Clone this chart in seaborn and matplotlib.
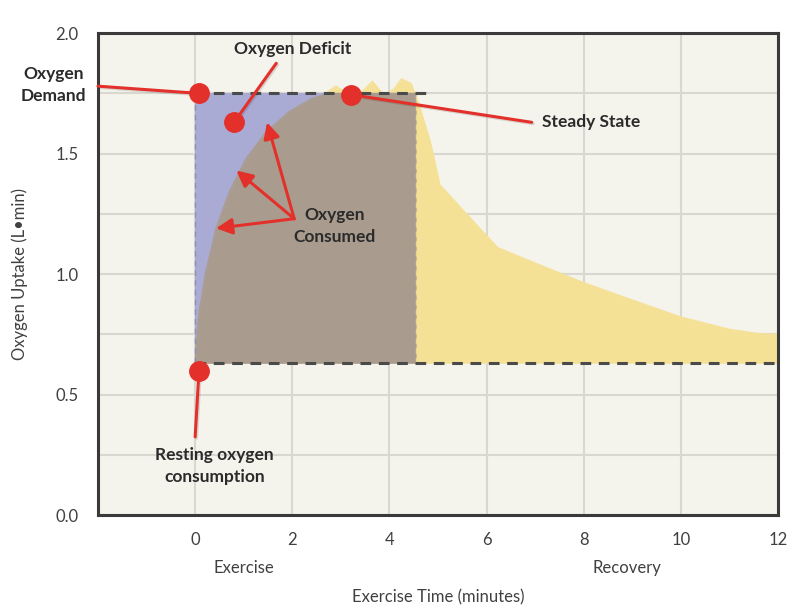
import matplotlib
matplotlib.use("Agg")
import matplotlib.pyplot as plt
import matplotlib.patheffects as pe
import seaborn as sns
import pandas as pd
import numpy as np

# values
demand_level = 1.75
rest_level = 0.63
exercise_end = 4.55

consumed_t = [0.0, 0.02, 0.08, 0.22, 0.43, 0.70, 1.05, 1.46, 1.94, 2.41, 2.76, 4.55]
consumed_v = [0.63, 0.70, 0.84, 1.01, 1.19, 1.34, 1.48, 1.59, 1.675, 1.73, 1.75, 1.75]

uptake_t = [0.0, 0.08, 0.43, 1.05, 1.94, 2.60, 2.90, 3.20, 3.45, 3.65, 3.90, 4.10, 4.25,
            4.45, 4.60, 4.84, 5.04, 5.45, 5.86, 6.23, 6.89, 7.98, 8.95, 10.0, 11.0, 11.57, 12.0]
uptake_v = [0.63, 0.84, 1.19, 1.48, 1.675, 1.74, 1.78, 1.74, 1.76, 1.80, 1.74, 1.77, 1.81,
            1.79, 1.71, 1.55, 1.37, 1.28, 1.19, 1.11, 1.055, 0.966, 0.896, 0.822, 0.771, 0.754, 0.75]

x_ticks = [0, 2, 4, 6, 8, 10, 12]
y_ticks = [0.0, 0.5, 1.0, 1.5, 2.0]

RED = "#e4302a"
BLUE = "#a9abd5"
BROWN = "#a99c8f"
YELLOW = "#f5e196"
BG = "#f4f3ec"
TXT = "#2b2b2b"

sns.set_style("white")
plt.rcParams["font.family"] = ["Lato", "DejaVu Sans"]

fig = plt.figure(figsize=(8.02, 6.14), dpi=100)
ax = fig.add_axes([0.1222, 0.161, 0.8478, 0.785])
ax.set_facecolor(BG)

uptake = pd.DataFrame({"t": uptake_t, "v": uptake_v})
consumed = pd.DataFrame({"t": consumed_t, "v": consumed_v})

# yellow: total uptake during exercise + recovery
ax.fill_between(uptake["t"], rest_level, uptake["v"], color=YELLOW, lw=0, zorder=1)
sns.lineplot(data=uptake, x="t", y="v", ax=ax, color=YELLOW, lw=1, zorder=1)

# blue: oxygen demand box
ax.fill_between([0, exercise_end], rest_level, demand_level, color=BLUE, lw=0, zorder=2)

# brown: oxygen consumed
ax.fill_between(consumed["t"], rest_level, consumed["v"], color=BROWN, lw=0, zorder=3)
sns.lineplot(data=consumed, x="t", y="v", ax=ax, color=BROWN, lw=1, zorder=3)

# faint edges of the box
ax.plot([0, 0], [rest_level, demand_level], ls=(0, (4, 3)), color="#8d8fb8", lw=1, zorder=4)
ax.plot([exercise_end, exercise_end], [rest_level, demand_level], ls=(0, (4, 3)),
        color="#e8d98f", lw=1, zorder=4)

# dashed demand / resting lines
ax.plot([0, 4.8], [demand_level, demand_level], ls=(0, (3.5, 2.5)), color="#4a4a4a", lw=2.2, zorder=5)
ax.plot([0, 12], [rest_level, rest_level], ls=(0, (3.5, 2.5)), color="#4a4a4a", lw=2.2, zorder=5)

shadow = [pe.SimplePatchShadow(offset=(1, -1), alpha=0.12), pe.Normal()]
line_shadow = [pe.SimpleLineShadow(offset=(1, -1), alpha=0.12), pe.Normal()]


def callout(x0, y0, x1, y1):
    ax.plot([x0, x1], [y0, y1], color=RED, lw=2.2, zorder=7, clip_on=False,
            path_effects=line_shadow, solid_capstyle="round")
    ax.plot([x1], [y1], "o", ms=14, color=RED, zorder=8, clip_on=False)


callout(-2.0, 1.78, 0.08, 1.75)     # oxygen demand
callout(1.67, 1.875, 0.80, 1.63)    # oxygen deficit
callout(6.93, 1.63, 3.20, 1.745)    # steady state
callout(0.0, 0.325, 0.08, 0.60)     # resting

# arrows from "Oxygen Consumed"
for hx, hy in [(1.48, 1.63), (0.85, 1.43), (0.43, 1.19)]:
    ax.annotate("", xy=(hx, hy), xytext=(2.04, 1.23), zorder=9,
                arrowprops=dict(arrowstyle="-|>", color=RED, lw=2.2,
                                mutation_scale=24, shrinkA=0, shrinkB=0,
                                path_effects=shadow))

bold = dict(fontweight="bold", color=TXT, fontsize=12.5, zorder=10)
ax.text(2.0, 1.935, "Oxygen Deficit", ha="center", va="center", **bold)
ax.text(2.87, 1.20, "Oxygen\nConsumed", ha="center", va="center", linespacing=1.45, **bold)
ax.text(7.15, 1.63, "Steady State", ha="left", va="center", **bold)
ax.text(0.40, 0.205, "Resting oxygen\nconsumption", ha="center", va="center",
        linespacing=1.45, **bold)
fig.text(0.067, 0.862, "Oxygen\nDemand", ha="center", va="center", linespacing=1.45,
         fontweight="bold", color=TXT, fontsize=12.5)

# axes styling
ax.set_xlim(-2, 12)
ax.set_ylim(0, 2.0)
ax.set_xticks(x_ticks)
ax.set_yticks(y_ticks)
ax.set_yticks(np.arange(0.25, 2.0, 0.5), minor=True)
ax.set_xticklabels([str(t) for t in x_ticks])
ax.set_yticklabels([f"{t:.1f}" for t in y_ticks])
ax.grid(True, which="both", color="#d8d7d0", lw=1.5, zorder=0)
ax.set_axisbelow(True)
ax.tick_params(axis="both", which="both", length=0, labelsize=12, colors="#404040")
ax.tick_params(axis="x", pad=12)
ax.tick_params(axis="y", pad=14)
for sp in ax.spines.values():
    sp.set_visible(True)
    sp.set_color("#3a3a3a")
    sp.set_linewidth(2.2)

ax.set_xlabel("Exercise Time (minutes)", fontsize=12, color="#404040", labelpad=30)
ax.set_ylabel("Oxygen Uptake (L\u2022min)", fontsize=12, color="#404040", labelpad=20)
ax.text(1.0, -0.22, "Exercise", ha="center", va="center", fontsize=12, color="#404040")
ax.text(8.9, -0.22, "Recovery", ha="center", va="center", fontsize=12, color="#404040")

fig.savefig("out.png", dpi=100, facecolor="white")
